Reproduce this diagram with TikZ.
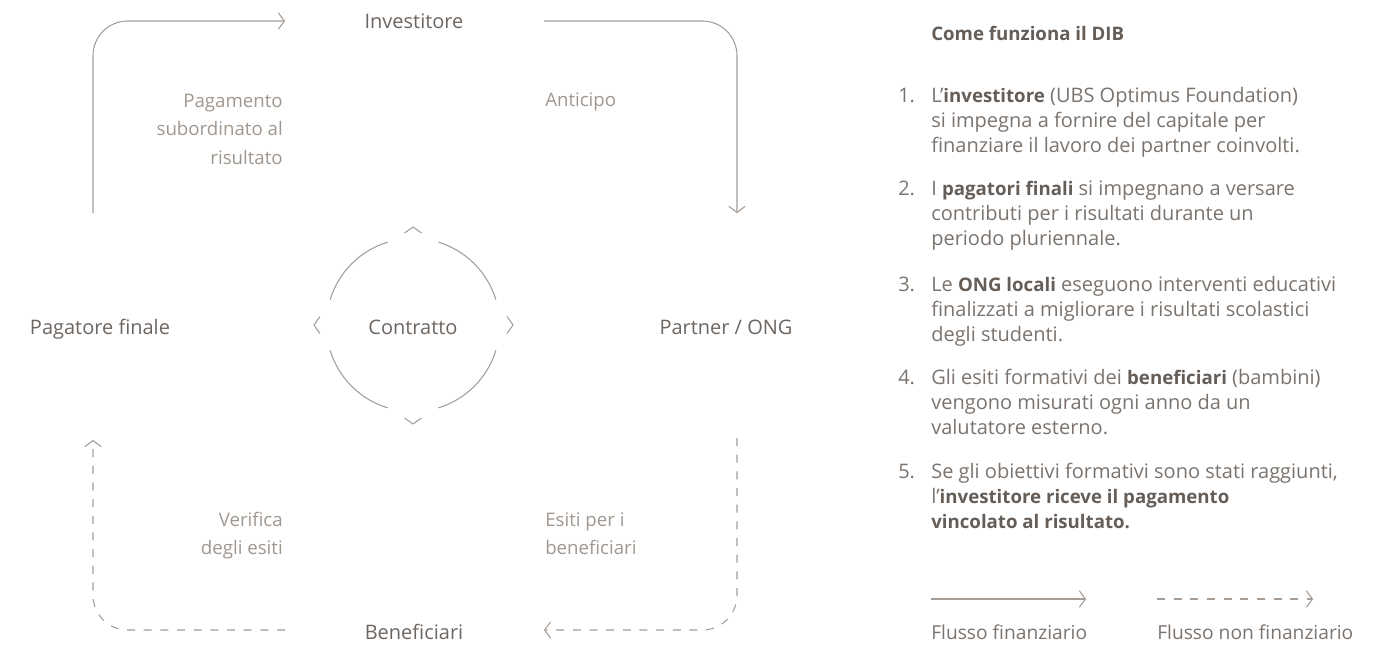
\documentclass[tikz,border=0pt]{standalone}
\usepackage{fontspec}
\setmainfont{Open Sans}
\usetikzlibrary{arrows.meta,positioning}
\definecolor{linec}{HTML}{A69D97}
\definecolor{mainc}{HTML}{6D6560}
\definecolor{softc}{HTML}{A0978F}
\definecolor{listc}{HTML}{7B736D}
\definecolor{boldc}{HTML}{655D57}
\tikzset{
  flow/.style={draw=linec, line width=0.8pt, rounded corners=26pt,
    -{Straight Barb[length=4.5pt,width=12pt,round]}},
  flowdash/.style={flow, dash pattern=on 6pt off 6.5pt},
  ringline/.style={draw=linec, line width=0.8pt, line join=round},
  actor/.style={text=mainc, inner sep=0pt, anchor=base,
    font=\fontsize{15}{18}\selectfont},
  note/.style={text=softc, inner sep=0pt,
    font=\fontsize{14}{21.4}\selectfont},
  num/.style={text=listc, inner sep=0pt, anchor=north west,
    font=\fontsize{15}{18.75}\selectfont},
  item/.style={num, align=left},
  legend/.style={text=listc, inner sep=0pt, anchor=base west,
    font=\fontsize{14.4}{18}\selectfont},
}
\newcommand{\bb}[1]{{\fontsize{14}{18.75}\selectfont\bfseries\color{boldc}#1}}
\begin{document}
\begin{tikzpicture}[x=0.75pt,y=-0.75pt]
\useasboundingbox (0,0) rectangle (1382,646);

% actors
\node[actor] (inv) at (414,28) {Investitore};
\node[actor] (pag) at (100,334) {Pagatore finale};
\node[actor] (con) at (413,334) {Contratto};
\node[actor] (ong) at (726,334) {Partner / ONG};
\node[actor] (ben) at (414,639) {Beneficiari};

% connector ends
\coordinate (pagUp) at (93,213);
\coordinate (invIn) at (285,21);
\coordinate (invOut) at (544,21);
\coordinate (ongIn) at (737,213);
\coordinate (ongDown) at (737,438);
\coordinate (benIn) at (544,630);
\coordinate (benOut) at (285,630);
\coordinate (pagIn) at (93,440);

\draw[flow] (pagUp) |- (invIn);
\draw[flow] (invOut) -| (ongIn);
\draw[flowdash] (ongDown) |- (benIn);
\draw[flowdash] (benOut) -| (pagIn);

% flow labels
\node[note, anchor=north east, align=right] (lblPay) at (283,87)
  {\strut Pagamento\\subordinato al\\risultato};
\node[note, anchor=north west] (lblAdv) at (545,86) {\strut Anticipo};
\node[note, anchor=north east, align=right] (lblCheck) at (283,506)
  {\strut Verifica\\degli esiti};
\node[note, anchor=north west, align=left] (lblOut) at (545,506)
  {\strut Esiti per i\\beneficiari};

% contract ring
\coordinate (ring) at (413,325);
\foreach \a in {0,90,180,270}
  \draw[ringline] (ring) ++(\a+17:65pt) arc[start angle=\a+17, end angle=\a+73, radius=65pt];
\draw[ringline] (ring) ++(-8.5,-92) -- ++(8.5,-6) -- ++(8.5,6);
\draw[ringline] (ring) ++(-8.5,93) -- ++(8.5,6) -- ++(8.5,-6);
\draw[ringline] (ring) ++(-93,-8.5) -- ++(-6,8.5) -- ++(6,8.5);
\draw[ringline] (ring) ++(94,-8.5) -- ++(6,8.5) -- ++(-6,8.5);

% how it works
\node[text=boldc, inner sep=0pt, anchor=base west,
  font=\fontsize{14}{18}\selectfont\bfseries] (title) at (931,40)
  {Come funziona il DIB};

\node[num] (n1) at (898,84.5) {\strut 1.};
\node[item] (it1) at (931,84.5)
  {\strut L’\bb{investitore} (UBS Optimus Foundation)\\si impegna a fornire del capitale per\\finanziare il lavoro dei partner coinvolti.};
\node[num] (n2) at (898,177.5) {\strut 2.};
\node[item] (it2) at (931,177.5)
  {\strut I \bb{pagatori finali} si impegnano a versare\\contributi per i risultati durante un\\periodo pluriennale.};
\node[num] (n3) at (898,273.5) {\strut 3.};
\node[item] (it3) at (931,273.5)
  {\strut Le \bb{ONG locali} eseguono interventi educativi\\finalizzati a migliorare i risultati scolastici\\degli studenti.};
\node[num] (n4) at (898,366.5) {\strut 4.};
\node[item] (it4) at (931,366.5)
  {\strut Gli esiti formativi dei \bb{beneficiari} (bambini)\\vengono misurati ogni anno da un\\valutatore esterno.};
\node[num] (n5) at (898,460.5) {\strut 5.};
\node[item] (it5) at (931,460.5)
  {\strut Se gli obiettivi formativi sono stati raggiunti,\\l’\bb{investitore riceve il pagamento}\\\bb{vincolato al risultato.}};

% legend
\node[legend] (legFin) at (931,639) {Flusso finanziario};
\node[legend] (legNon) at (1157,639) {Flusso non finanziario};
\coordinate (legFinA) at (931,599);
\coordinate (legFinB) at (1086,599);
\coordinate (legNonA) at (1157,599);
\coordinate (legNonB) at (1313,599);
\draw[flow] (legFinA) -- (legFinB);
\draw[flowdash] (legNonA) -- (legNonB);
\end{tikzpicture}
\end{document}
